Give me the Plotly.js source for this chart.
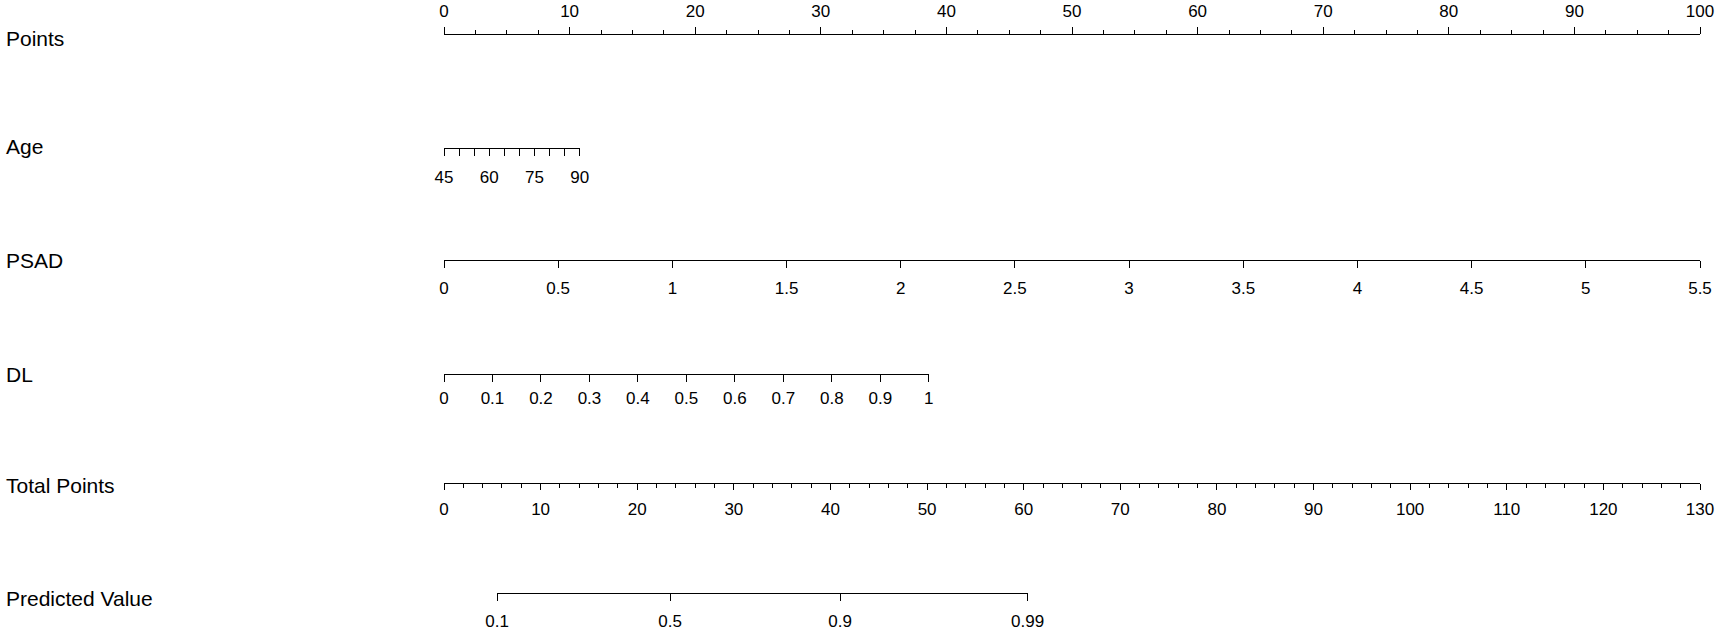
<!DOCTYPE html>
<html>
<head>
<meta charset="utf-8">
<script src="https://cdn.plot.ly/plotly-3.0.1.min.js"></script>
<style>
  html, body { margin: 0; padding: 0; background: #fff; }
  #chart { width: 1720px; height: 633px; }
</style>
</head>
<body>
<div id="chart"></div>
<script>
// Nomogram - one free x axis per row, all laid out against the Points scale

const rowNames = ['Points', 'Age', 'PSAD', 'DL', 'Total Points', 'Predicted Value'];

const pointsTicks = [0, 10, 20, 30, 40, 50, 60, 70, 80, 90, 100];

const ageTicks = [45, 50, 55, 60, 65, 70, 75, 80, 85, 90];
const ageLabels = ['45', '', '', '60', '', '', '75', '', '', '90'];
const agePoints = [0, 10.8];          // points at age 45 and 90

const psadTicks = [0, 0.5, 1, 1.5, 2, 2.5, 3, 3.5, 4, 4.5, 5, 5.5];
const psadLabels = ['0', '0.5', '1', '1.5', '2', '2.5', '3', '3.5', '4', '4.5', '5', '5.5'];
const psadPoints = [0, 100];

const dlTicks = [0, 0.1, 0.2, 0.3, 0.4, 0.5, 0.6, 0.7, 0.8, 0.9, 1];
const dlLabels = ['0', '0.1', '0.2', '0.3', '0.4', '0.5', '0.6', '0.7', '0.8', '0.9', '1'];
const dlPoints = [0, 38.6];

const totalTicks = [0, 10, 20, 30, 40, 50, 60, 70, 80, 90, 100, 110, 120, 130];
const totalMax = 130;

const predLabels = ['0.1', '0.5', '0.9', '0.99'];
const predTotal = [5.5, 23.4, 41.0, 60.4];  // total points at each probability

// layout geometry (pixels)
const W = 1720, H = 633;
const X0 = 444, XLEN = 1256;            // Points 0 .. 100
const lineY = [34, 148, 260, 374, 483, 593];
const nameY = [38, 146, 261, 374, 485, 598];
const standoff = [3, 7, 6, 2, 5, 6];

const dom = (p0, p1) => [(X0 + p0 / 100 * XLEN) / W, (X0 + p1 / 100 * XLEN) / W];
const pos = (py) => 1 - py / H;

const tickFont = { family: 'Liberation Sans, Arial, sans-serif', size: 17, color: '#000' };

function axis(domain, range, py, extra) {
    return Object.assign({
        domain: domain,
        range: range,
        anchor: 'free',
        position: pos(py),
        side: 'bottom',
        showline: true,
        linecolor: '#000',
        linewidth: 1,
        showgrid: false,
        zeroline: false,
        ticks: 'outside',
        ticklen: 7,
        tickwidth: 1,
        tickcolor: '#000',
        tickmode: 'array',
        tickfont: tickFont,
        fixedrange: true
    }, extra);
}

const rows = [
    { id: 'x', range: [0, 100], domain: dom(0, 100), extra: {
        side: 'top', tickvals: pointsTicks, ticktext: pointsTicks.map(String),
        minor: { tickmode: 'linear', tick0: 0, dtick: 2.5, ticklen: 4, ticks: 'outside', tickcolor: '#000' } } },
    { id: 'x2', range: [ageTicks[0], ageTicks[ageTicks.length - 1]], domain: dom(agePoints[0], agePoints[1]), extra: {
        tickvals: ageTicks, ticktext: ageLabels } },
    { id: 'x3', range: [psadTicks[0], psadTicks[psadTicks.length - 1]], domain: dom(psadPoints[0], psadPoints[1]), extra: {
        tickvals: psadTicks, ticktext: psadLabels } },
    { id: 'x4', range: [dlTicks[0], dlTicks[dlTicks.length - 1]], domain: dom(dlPoints[0], dlPoints[1]), extra: {
        tickvals: dlTicks, ticktext: dlLabels } },
    { id: 'x5', range: [0, totalMax], domain: dom(0, 100), extra: {
        tickvals: totalTicks, ticktext: totalTicks.map(String), ticklen: 6,
        minor: { tickmode: 'linear', tick0: 0, dtick: 2, ticklen: 3.5, ticks: 'outside', tickcolor: '#000' } } },
    { id: 'x6', range: [predTotal[0], predTotal[predTotal.length - 1]],
      domain: dom(predTotal[0] / totalMax * 100, predTotal[predTotal.length - 1] / totalMax * 100), extra: {
        tickvals: predTotal, ticktext: predLabels } }
];

const data = [];
const layout = {
    width: W,
    height: H,
    margin: { l: 0, r: 0, t: 0, b: 0 },
    paper_bgcolor: '#fff',
    plot_bgcolor: 'rgba(0,0,0,0)',
    showlegend: false,
    yaxis: { domain: [0, 1], range: [0, 1], visible: false, fixedrange: true },
    annotations: []
};

rows.forEach((r, i) => {
    const key = r.id === 'x' ? 'xaxis' : 'xaxis' + r.id.slice(1);
    layout[key] = axis(r.domain, r.range, lineY[i], Object.assign({ ticklabelstandoff: standoff[i] }, r.extra));
    // invisible trace so the axis gets its own subplot
    data.push({
        x: r.range, y: [0.5, 0.5], xaxis: r.id, yaxis: 'y',
        type: 'scatter', mode: 'markers', marker: { opacity: 0 }, hoverinfo: 'skip'
    });
    layout.annotations.push({
        text: rowNames[i], xref: 'paper', yref: 'paper',
        x: 4 / W, y: pos(nameY[i]), xanchor: 'left', yanchor: 'middle',
        showarrow: false,
        font: { family: 'Liberation Sans, Arial, sans-serif', size: 21, color: '#000' }
    });
});

Plotly.newPlot('chart', data, layout, { displayModeBar: false, staticPlot: true });
</script>
</body>
</html>
